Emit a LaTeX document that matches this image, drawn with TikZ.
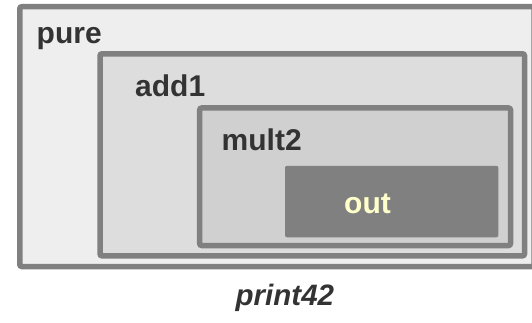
\documentclass[tikz,border=0pt]{standalone}
\usepackage{fontspec}
\setmainfont{Liberation Sans}
\definecolor{border}{HTML}{808080}
\definecolor{fillpure}{HTML}{EEEEEE}
\definecolor{filladd}{HTML}{DDDDDD}
\definecolor{fillmult}{HTML}{D0D0D0}
\definecolor{txt}{HTML}{333333}
\definecolor{outtxt}{HTML}{FFFFCC}
\tikzset{
  frame/.style={draw=border, line width=5.5pt, rounded corners=2pt},
  lbl/.style={anchor=base west, inner sep=0pt, text=txt, font=\fontsize{30}{34}\selectfont\bfseries},
}
\begin{document}
\begin{tikzpicture}[x=1pt,y=-1pt]
\useasboundingbox (0,0) rectangle (532,323);
\draw[frame, fill=fillpure] (19.8,6.7) rectangle (534,266.5);
\draw[frame, fill=filladd] (100,53.8) rectangle (524.5,255.8);
\draw[frame, fill=fillmult] (199.7,108) rectangle (510.5,245.5);
\fill[border, rounded corners=2pt] (285,165.8) rectangle (498.3,237.3);
\node[lbl] (pure) at (36.5,43.3) {pure};
\node[lbl] (add1) at (135,96.7) {add1};
\node[lbl] (mult2) at (221.5,150) {mult2};
\node[lbl, text=outtxt] (out) at (344,213.3) {out};
\node[lbl, font=\fontsize{29.5}{34}\selectfont\bfseries\itshape] (print) at (235.5,305) {print42};
\end{tikzpicture}
\end{document}
